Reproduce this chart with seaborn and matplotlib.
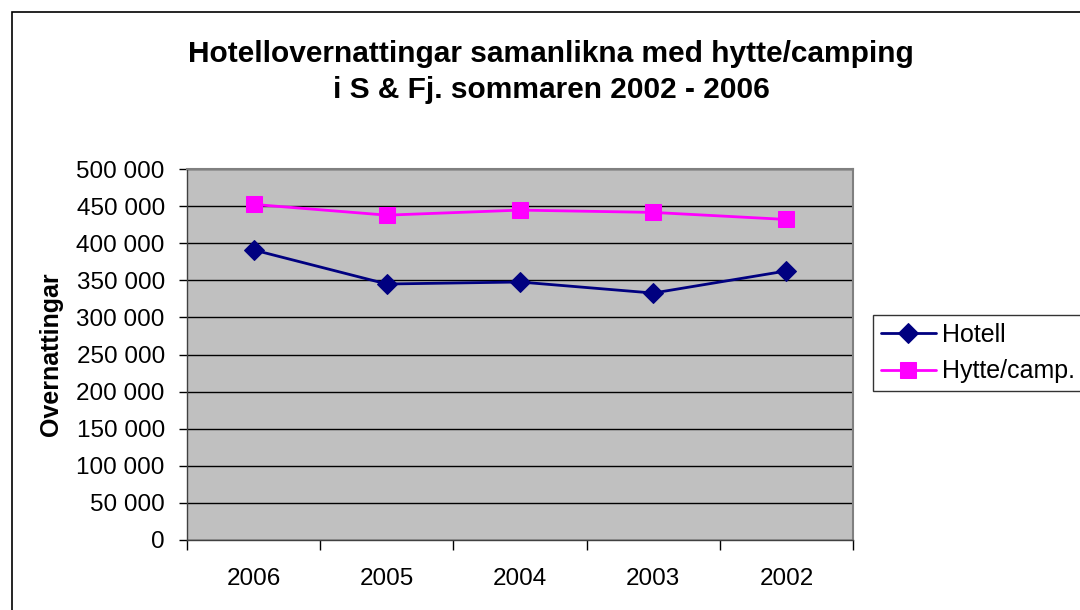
import matplotlib

matplotlib.use("Agg")
import matplotlib.pyplot as plt
import pandas as pd
import seaborn as sns
from matplotlib.patches import Rectangle
from matplotlib.ticker import FixedLocator, FuncFormatter

years = ["2006", "2005", "2004", "2003", "2002"]
hotell = [390900, 345000, 347700, 332800, 362600]
hytte = [452300, 437800, 444600, 441500, 432000]
y_ticks = list(range(0, 500001, 50000))

sns.set_style("white")
plt.rcParams["font.family"] = ["Liberation Sans", "DejaVu Sans"]
plt.rcParams["text.color"] = "black"
plt.rcParams["axes.labelcolor"] = "black"
plt.rcParams["xtick.color"] = "black"
plt.rcParams["ytick.color"] = "black"

df = pd.DataFrame({"year": years, "Hotell": hotell, "Hytte/camp.": hytte})
df["pos"] = range(len(years))

fig = plt.figure(figsize=(10.8, 6.1), dpi=100)
ax = fig.add_axes([187 / 1080, 70 / 610, 666 / 1080, 371 / 610])
ax.set_facecolor("#C0C0C0")

sns.lineplot(data=df, x="pos", y="Hotell", ax=ax, color="#000080", marker="D",
             markersize=10, markeredgecolor="#000080", linewidth=2, label="Hotell")
sns.lineplot(data=df, x="pos", y="Hytte/camp.", ax=ax, color="#FF00FF", marker="s",
             markersize=11, markeredgecolor="#FF00FF", linewidth=2, label="Hytte/camp.")

ax.set_xlim(-0.5, len(years) - 0.5)
ax.set_ylim(0, 500000)

# category boundaries as ticks, labels centred between them
ax.xaxis.set_major_locator(FixedLocator([i - 0.5 for i in range(len(years) + 1)]))
ax.xaxis.set_minor_locator(FixedLocator(list(range(len(years)))))
ax.set_xticklabels([""] * (len(years) + 1))
ax.set_xticklabels(years, minor=True)
ax.tick_params(axis="x", which="major", direction="out", length=7, width=1, color="black", bottom=True)
ax.tick_params(axis="x", which="minor", length=0, labelsize=17.5, pad=20)

ax.set_yticks(y_ticks)
ax.yaxis.set_major_formatter(FuncFormatter(lambda v, _: f"{int(v):,}".replace(",", " ")))
ax.tick_params(axis="y", direction="out", length=6, width=1, color="black", left=True,
               labelsize=17.5, pad=10)

ax.grid(axis="y", color="black", linewidth=1)
ax.set_axisbelow(True)

for side in ["top", "right"]:
    ax.spines[side].set_color("#808080")
    ax.spines[side].set_linewidth(1.5)
for side in ["left", "bottom"]:
    ax.spines[side].set_color("#404040")
    ax.spines[side].set_linewidth(1)

ax.set_xlabel("")
ax.set_ylabel("Overnattingar", fontsize=18, fontweight="bold")
ax.yaxis.set_label_coords(-0.186, 0.5)

fig.text(551 / 1080, 1 - 40 / 610,
         "Hotellovernattingar samanlikna med hytte/camping\ni S & Fj. sommaren 2002 - 2006",
         ha="center", va="top", fontsize=21.5, fontweight="bold", linespacing=1.36)

leg = ax.legend(loc="center left", bbox_to_anchor=(873 / 1080, 1 - 353 / 610),
                bbox_transform=fig.transFigure, frameon=True, fancybox=False,
                fontsize=18, handlelength=2.2, borderpad=0.3, labelspacing=0.5,
                handletextpad=0.28, borderaxespad=0)
leg.get_frame().set_edgecolor("black")
leg.get_frame().set_linewidth(1)

fig.patches.append(Rectangle((12 / 1080, -0.1), 2, 1.1 - 12 / 610, transform=fig.transFigure,
                             fill=False, edgecolor="black", linewidth=1.2))

fig.savefig("out.png", dpi=100)
plt.close(fig)
